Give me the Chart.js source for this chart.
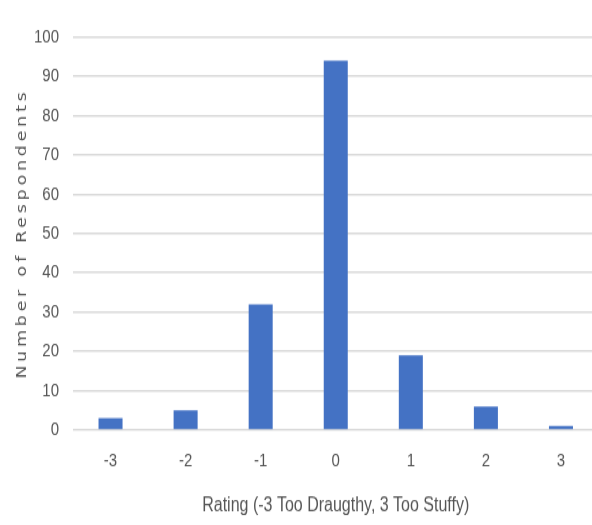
<!DOCTYPE html>
<html>
<head>
<meta charset="utf-8">
<script src="https://cdn.jsdelivr.net/npm/chart.js@4/dist/chart.umd.min.js"></script>
<style>
  html { overflow: hidden; }
  html, body { margin: 0; padding: 0; background: #ffffff; }
  body { width: 592px; height: 525px; }
  #wrap { width: 600px; height: 420px; transform: scale(1, 1.25); transform-origin: 0 0; }
</style>
</head>
<body>
<div id="wrap"><canvas id="chart" width="600" height="420"></canvas></div>
<script>
// Thermal comfort survey: draught / stuffiness rating counts
const ratings = ['-3', '-2', '-1', '0', '1', '2', '3'];
const respondents = [3, 5, 32, 94, 19, 6, 1];
const yTicks = [0, 10, 20, 30, 40, 50, 60, 70, 80, 90, 100];

const xTitle = 'Rating (-3 Too Draugthy, 3 Too Stuffy)';
const yTitle = 'Number of Respondents';

const textGrey = '#555555';
const gridGrey = '#d9d9d9';
const barBlue = '#4472C4';

// Axis titles may carry a letterSpacing option (px)
const baseDrawTitle = Chart.LinearScale.prototype.drawTitle;
Chart.LinearScale.prototype.drawTitle = function () {
  const ctx = this.ctx;
  ctx.save();
  ctx.letterSpacing = (this.options.title.letterSpacing || 0) + 'px';
  baseDrawTitle.call(this);
  ctx.restore();
};

new Chart(document.getElementById('chart'), {
  type: 'bar',
  data: {
    labels: ratings,
    datasets: [{
      data: respondents,
      backgroundColor: barBlue,
      borderWidth: 0,
      barPercentage: 0.8,
      categoryPercentage: 0.4
    }]
  },
  options: {
    responsive: false,
    animation: false,
    devicePixelRatio: 1,
    layout: { padding: { top: 29.6, right: 1.5, bottom: 0, left: 0 } },
    plugins: { legend: { display: false }, tooltip: { enabled: false } },
    scales: {
      x: {
        grid: { display: false, drawTicks: false },
        border: { display: false },
        ticks: {
          color: textGrey,
          padding: 16,
          font: { family: '"Liberation Sans Narrow", "Liberation Sans", Arial, sans-serif', size: 15 }
        },
        title: {
          display: true,
          text: xTitle,
          color: textGrey,
          padding: { top: 0, bottom: 6 },
          font: { family: '"Liberation Sans", Arial, sans-serif', size: 16 }
        },
        afterFit: (scale) => { scale.height = 76; }
      },
      y: {
        min: 0,
        max: 100,
        afterBuildTicks: (scale) => { scale.ticks = yTicks.map(v => ({ value: v })); },
        grid: { color: gridGrey, lineWidth: 1.5, drawTicks: false },
        border: { display: false },
        ticks: {
          color: textGrey,
          padding: 14,
          font: { family: '"Liberation Sans Narrow", "Liberation Sans", Arial, sans-serif', size: 15 }
        },
        title: {
          display: true,
          text: yTitle,
          color: textGrey,
          letterSpacing: 3,
          padding: { top: 14, bottom: 0 },
          font: { family: '"DejaVu Sans", sans-serif', size: 14 }
        },
        afterFit: (scale) => { scale.width = 73; }
      }
    }
  }
});
</script>
</body>
</html>
